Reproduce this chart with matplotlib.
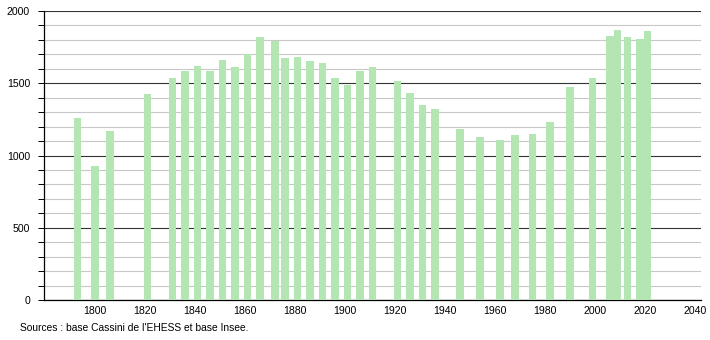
import numpy as np
import matplotlib.pyplot as plt
from matplotlib.ticker import MultipleLocator

plt.rcParams['font.family'] = ['Liberation Sans', 'DejaVu Sans']

# recensements
years = [1793, 1800, 1806, 1821, 1831, 1836, 1841, 1846, 1851, 1856, 1861, 1866,
         1872, 1876, 1881, 1886, 1891, 1896, 1901, 1906, 1911, 1921, 1926, 1931,
         1936, 1946, 1954, 1962, 1968, 1975, 1982, 1990, 1999, 2006, 2009, 2013,
         2018, 2021]
pop = [1257, 929, 1169, 1425, 1536, 1585, 1619, 1585, 1663, 1612, 1700, 1820,
       1792, 1675, 1682, 1654, 1642, 1536, 1488, 1585, 1612, 1516, 1433, 1349,
       1322, 1183, 1128, 1107, 1142, 1149, 1232, 1474, 1536, 1827, 1869, 1820,
       1804, 1862]

fig = plt.figure(figsize=(7.1, 3.4), dpi=100)
ax = fig.add_axes([44/710, 40/340, 657/710, 289/340])

ax.bar(years, pop, width=3.1, color='#b3e6b3', zorder=3)

ax.set_xlim(1779.6, 2042.4)
ax.set_ylim(0, 2000)
ax.set_xticks(np.arange(1800, 2041, 20))
ax.yaxis.set_major_locator(MultipleLocator(500))
ax.yaxis.set_minor_locator(MultipleLocator(100))
ax.grid(axis='y', which='minor', color='#c8c8c8', lw=0.8, zorder=1)
ax.grid(axis='y', which='major', color='#333333', lw=0.8, zorder=2)

for s in ['top', 'right']:
    ax.spines[s].set_visible(False)
ax.spines['left'].set_linewidth(0.9)
ax.spines['bottom'].set_linewidth(0.9)
ax.tick_params(axis='x', length=0, labelsize=7.6, pad=4)
ax.tick_params(axis='y', which='both', length=4, width=0.7, labelsize=7.6, pad=6)

fig.text(20/710, 1 - 328/340, "Sources : base Cassini de l'EHESS et base Insee.",
         fontsize=7.4, va='center')

plt.savefig('out.png', dpi=100)
